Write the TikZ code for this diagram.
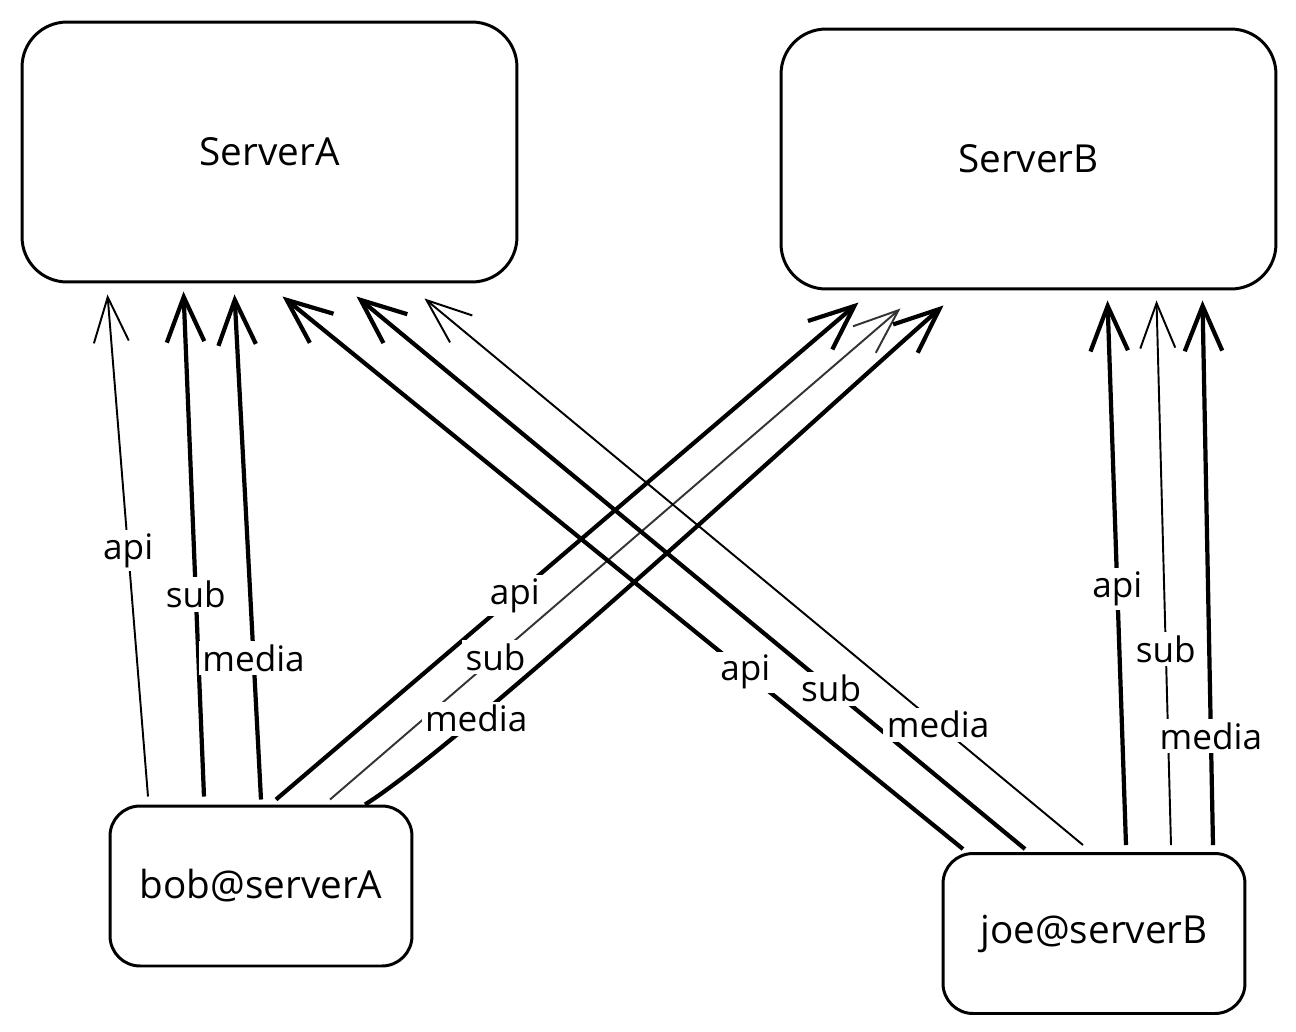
\documentclass[tikz,border=0pt]{standalone}
\usepackage{fontspec}
\setmainfont{Open Sans}
\usetikzlibrary{arrows.meta,calc,positioning}

\tikzset{
  server/.style={draw, line width=1.7pt, rounded corners=0.9cm,
    minimum width=9.9cm, minimum height=5.2cm, font=\fontsize{22}{26}\selectfont},
  user/.style={draw, line width=1.7pt, rounded corners=0.6cm,
    minimum width=6.04cm, minimum height=3.2cm, font=\fontsize{22}{26}\selectfont},
  lbl/.style={fill=white, inner sep=2pt, font=\fontsize{20}{24}\selectfont},
  thinarr/.style={line width=1.1pt, -{Straight Barb[length=0.9cm,width=0.7cm]}},
  thickarr/.style={line width=2.4pt, -{Straight Barb[length=0.9cm,width=0.75cm]}}
}

\begin{document}
\begin{tikzpicture}[x=0.02cm,y=-0.02cm]
  \useasboundingbox (0,0) rectangle (1296,1032);
  %Boxes
  \node[server] (serverA) at (269.5,152) {ServerA};
  \node[server] (serverB) at (1028.5,159) {ServerB};
  \node[user] (bob) at (261,886) {bob@serverA};
  \node[user] (joe) at (1094,933.5) {joe@serverB};
  %bob to ServerA
  \draw[thinarr] ($(bob.north)+(-113,-8)$) -- node[lbl,pos=.49]{api} ($(serverA.south)+(-162,11)$);
  \draw[thickarr] ($(bob.north)+(-57,-8)$) -- node[lbl,pos=.40]{sub} ($(serverA.south)+(-86,8)$);
  \draw[thickarr] ($(bob.north)+(0,-5)$) -- node[lbl,pos=.28]{media} ($(serverA.south)+(-35,11)$);
  %bob to ServerB
  \draw[thickarr] ($(bob.north)+(15,-5)$) -- node[lbl,pos=.41]{api} ($(serverB.south)+(-170,12)$);
  \draw[thinarr,black!80] ($(bob.north)+(69,-5)$) -- node[lbl,pos=.29,text=black]{sub} ($(serverB.south)+(-128,18)$);
  \draw[thickarr] ($(bob.north)+(104,0)$) to[out=32,in=221,looseness=0.4] node[lbl,pos=.235]{media} ($(serverB.south)+(-85,15)$);
  %joe to ServerA
  \draw[thickarr] ($(joe.north)+(-131,-3)$) -- node[lbl,pos=.32]{api} ($(serverA.south)+(13,13)$);
  \draw[thickarr] ($(joe.north)+(-69,-3)$) -- node[lbl,pos=.29]{sub} ($(serverA.south)+(87,13)$);
  \draw[thinarr] ($(joe.north)+(-11,-7)$) -- node[lbl,pos=.22]{media} ($(serverA.south)+(155,15)$);
  %joe to ServerB
  \draw[thickarr] ($(joe.north)+(32,-7)$) -- node[lbl,pos=.47]{api} ($(serverB.south)+(79,10)$);
  \draw[thinarr] ($(joe.north)+(77,-7)$) -- node[lbl,pos=.36]{sub} ($(serverB.south)+(128,10)$);
  \draw[thickarr] ($(joe.north)+(119,-7)$) -- node[lbl,pos=.20]{media} ($(serverB.south)+(174,10)$);
\end{tikzpicture}
\end{document}
